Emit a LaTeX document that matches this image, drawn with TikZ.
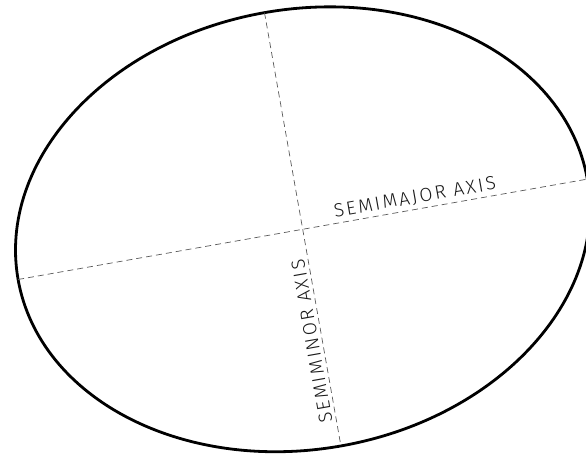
\documentclass[tikz,border=0pt]{standalone}
\usepackage{fontspec}
\newfontfamily\cadfont[LetterSpace=12]{Fira Sans Light}

\tikzset{
    outline/.style={line width=2.8pt},
    axisline/.style={dash pattern=on 6pt off 4pt, line width=0.7pt, black!65},
    axislabel/.style={font=\cadfont\fontsize{19}{19}\selectfont, text=black!90, inner sep=3.5pt, anchor=south},
}

\begin{document}
\begin{tikzpicture}[x=1pt, y=1pt]

    \useasboundingbox (0,0) rectangle (586,458);

    %========================
    % Ellipse and its axes
    %========================
    \coordinate (c) at (302.7,228.7);
    \begin{scope}[shift={(c)}, rotate=10]
        % Outline
        \draw[outline] (0,0) ellipse [x radius=289, y radius=220];

        % Axis ends
        \coordinate (majL) at (-289,0);
        \coordinate (majR) at (289,0);
        \coordinate (minT) at (0,220);
        \coordinate (minB) at (0,-220);

        % Labels
        \node[axislabel, rotate=10] (majlabel) at (116,0) {SEMIMAJOR AXIS};
        \node[axislabel, rotate=100] (minlabel) at (0,-112) {SEMIMINOR AXIS};
    \end{scope}

    % Axes
    \draw[axisline] (majL) -- (majR);
    \draw[axisline] (minT) -- (minB);

\end{tikzpicture}
\end{document}
